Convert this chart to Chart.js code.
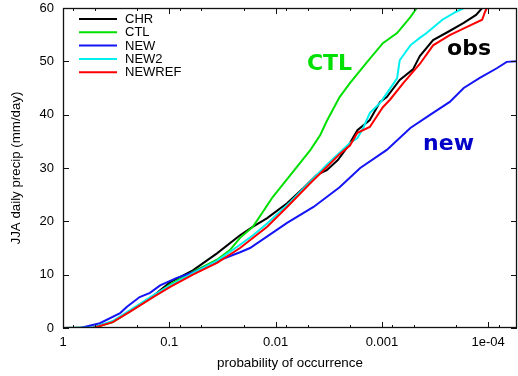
<!DOCTYPE html>
<html>
<head>
<meta charset="utf-8">
<script src="https://cdn.jsdelivr.net/npm/chart.js@4/dist/chart.umd.min.js"></script>
<style>
html, body { margin: 0; padding: 0; background: #fff; }
#wrap { width: 518px; height: 376px; }
</style>
</head>
<body>
<div id="wrap"><canvas id="myChart" width="518" height="376"></canvas></div>
<script>
//x轴刻度（概率，反向对数轴）
var xTicks = [1, 0.1, 0.01, 0.001, 0.0001]
var xTickLabels = ['1', '0.1', '0.01', '0.001', '1e-04']
var xMinor = [0.8, 0.5, 0.2, 0.08, 0.05, 0.02, 0.008, 0.005, 0.002, 0.0008, 0.0005, 0.0002, 0.00008]
var yTicks = [0, 10, 20, 30, 40, 50, 60]

//CHR
var chrP = [1, 0.52, 0.34, 0.22, 0.142, 0.098, 0.060, 0.0356, 0.0216, 0.0163, 0.012, 0.0078, 0.0055, 0.0041, 0.0033, 0.0026, 0.0021, 0.0020, 0.0017, 0.0013, 0.00104, 0.0009, 0.00068, 0.00051, 0.00044, 0.00033, 0.00024, 0.00017, 0.00013, 0.000114]
var chrY = [0, 0.1, 1.2, 3.5, 6.0, 8.6, 10.8, 14.0, 17.4, 19.0, 20.6, 23.4, 26.2, 28.7, 29.6, 31.5, 34.0, 34.7, 37.1, 39.0, 42.4, 43.3, 46.5, 48.5, 51.0, 54.0, 55.5, 57.2, 58.7, 60]
//CTL
var ctlP = [1, 0.52, 0.34, 0.22, 0.142, 0.098, 0.060, 0.0356, 0.0269, 0.0216, 0.0163, 0.0106, 0.0063, 0.0047, 0.0038, 0.0033, 0.0025, 0.0020, 0.0014, 0.00098, 0.00072, 0.00054, 0.00047]
var ctlY = [0, 0, 1.1, 3.5, 5.9, 8.2, 10.5, 12.8, 14.6, 16.9, 19.0, 24.6, 30.2, 33.4, 36.2, 38.8, 43.3, 45.9, 49.7, 53.4, 55.3, 58.3, 60]
//NEW
var newP = [1, 0.69, 0.45, 0.29, 0.25, 0.19, 0.152, 0.122, 0.085, 0.060, 0.033, 0.0216, 0.0174, 0.0078, 0.0044, 0.0025, 0.0016, 0.0009, 0.00054, 0.00035, 0.00023, 0.00017, 0.00012, 0.000083, 0.000067, 0.0000536]
var newY = [0, 0, 0.9, 2.8, 4.0, 5.8, 6.6, 8.0, 9.4, 10.4, 12.8, 14.2, 15.0, 19.7, 22.7, 26.4, 30.0, 33.4, 37.5, 40.0, 42.4, 45.0, 46.9, 48.7, 49.9, 50]
//NEW2
var new2P = [1, 0.52, 0.34, 0.22, 0.142, 0.098, 0.060, 0.0356, 0.0216, 0.0163, 0.012, 0.0073, 0.0033, 0.0020, 0.0017, 0.0015, 0.0013, 0.00104, 0.0009, 0.00072, 0.00068, 0.00054, 0.00044, 0.00038, 0.00027, 0.0002, 0.00017]
var new2Y = [0, 0.1, 1.3, 3.7, 6.1, 8.0, 10.3, 12.6, 15.6, 17.4, 19.6, 23.6, 30.6, 34.7, 35.6, 37.5, 40.3, 42.2, 44.0, 46.8, 50.2, 53.0, 54.4, 55.3, 57.8, 59.3, 60]
//NEWREF
var refP = [1, 0.52, 0.34, 0.22, 0.142, 0.098, 0.060, 0.0356, 0.0216, 0.012, 0.0078, 0.0047, 0.0033, 0.0025, 0.0020, 0.0017, 0.0013, 0.00098, 0.00084, 0.00063, 0.00044, 0.00033, 0.00023, 0.00016, 0.000114, 0.000107, 0.000103]
var refY = [0, 0, 1.1, 3.4, 5.8, 7.7, 10.0, 12.2, 15.0, 19.0, 22.7, 27.2, 30.2, 32.6, 34.2, 36.6, 37.7, 41.4, 42.8, 45.9, 49.5, 53.0, 54.9, 56.4, 57.8, 59.3, 60]

var seriesNames = ['CHR', 'CTL', 'NEW', 'NEW2', 'NEWREF']
var seriesColors = ['#000000', '#00e000', '#1414f5', '#00f0f0', '#ff0000']

//图中标注（文字、概率、数值）
var notes = [
    { text: 'CTL', p: 0.00507, v: 48.4, color: '#00e000' },
    { text: 'obs', p: 0.000244, v: 51.2, color: '#000000' },
    { text: 'new', p: 0.00041, v: 33.4, color: '#0000c8' },
]

function pts(px, py) {
    return px.map((p, i) => ({ x: p, y: py[i] }))
}

var allP = [chrP, ctlP, newP, new2P, refP]
var allY = [chrY, ctlY, newY, new2Y, refY]

var datasets = seriesNames.map((name, i) => ({
    label: name,
    data: pts(allP[i], allY[i]),
    borderColor: seriesColors[i],
    backgroundColor: seriesColors[i],
    borderWidth: 2,
    pointRadius: 0,
    tension: 0,
    //后画的在上层，红线最上
    order: 4 - i,
}))

var FONT = 'Liberation Sans'

//gnuplot风格：边框、内向刻度、图例、标注
var framePlugin = {
    id: 'frame',
    afterDraw(chart) {
        let ctx = chart.ctx
        let a = chart.chartArea
        let xs = chart.scales.x
        let ys = chart.scales.y
        ctx.save()
        ctx.strokeStyle = '#111'
        ctx.lineWidth = 1
        let line = (x1, y1, x2, y2) => {
            ctx.beginPath(); ctx.moveTo(x1, y1); ctx.lineTo(x2, y2); ctx.stroke()
        }
        xTicks.forEach(v => {
            let px = Math.round(xs.getPixelForValue(v)) + 0.5
            line(px, a.bottom, px, a.bottom - 6)
            line(px, a.top, px, a.top + 6)
        })
        xMinor.forEach(v => {
            let px = Math.round(xs.getPixelForValue(v)) + 0.5
            line(px, a.bottom, px, a.bottom - 3)
            line(px, a.top, px, a.top + 3)
        })
        yTicks.forEach(v => {
            let py = Math.round(ys.getPixelForValue(v)) + 0.5
            line(a.left, py, a.left + 6, py)
            line(a.right, py, a.right - 6, py)
        })
        ctx.lineWidth = 1.3
        ctx.strokeRect(a.left + 0.5, a.top + 0.5, a.right - a.left - 1, a.bottom - a.top - 1)

        //图例
        ctx.font = '13px "' + FONT + '"'
        ctx.textBaseline = 'middle'
        ctx.textAlign = 'left'
        seriesNames.forEach((name, i) => {
            let y = a.top + 11 + i * 13.3
            ctx.strokeStyle = seriesColors[i]
            ctx.lineWidth = 2
            line(a.left + 16, y, a.left + 54, y)
            ctx.fillStyle = '#000'
            ctx.fillText(name, a.left + 62, y + 0.5)
        })

        //标注
        ctx.font = 'bold 22px "DejaVu Sans"'
        ctx.textBaseline = 'alphabetic'
        notes.forEach(n => {
            ctx.fillStyle = n.color
            ctx.fillText(n.text, xs.getPixelForValue(n.p), ys.getPixelForValue(n.v))
        })
        ctx.restore()
    }
}

var ctx = document.getElementById('myChart').getContext('2d')
var myChart = new Chart(ctx, {
    type: 'line',
    data: { datasets: datasets },
    options: {
        responsive: false,
        animation: false,
        layout: { padding: { left: 0, right: 1, top: 8, bottom: 0 } },
        plugins: {
            legend: { display: false },
            tooltip: { enabled: false },
        },
        scales: {
            x: {
                type: 'logarithmic',
                reverse: true,
                min: 0.0000536,
                max: 1,
                grid: { display: false, drawTicks: false },
                border: { display: false },
                afterBuildTicks: s => { s.ticks = xTicks.map(v => ({ value: v })) },
                afterFit: s => {
                    s.height = 48
                    s.paddingLeft = 0
                    s.paddingRight = 0
                },
                ticks: {
                    autoSkip: false,
                    maxRotation: 0,
                    padding: 7,
                    color: '#000',
                    font: { family: FONT, size: 13 },
                    callback: (v, i) => xTickLabels[i],
                },
                title: {
                    display: true,
                    text: 'probability of occurrence',
                    color: '#000',
                    font: { family: FONT, size: 13.4 },
                    padding: { top: 0, bottom: 5 },
                },
            },
            y: {
                min: 0,
                max: 60,
                grid: { display: false, drawTicks: false },
                border: { display: false },
                afterBuildTicks: s => { s.ticks = yTicks.map(v => ({ value: v })) },
                afterFit: s => {
                    s.width = 63
                    //去掉刻度文字带来的额外上下留白
                    s.paddingTop = 0
                    s.paddingBottom = 0
                },
                ticks: {
                    padding: 9,
                    color: '#000',
                    font: { family: FONT, size: 13 },
                },
                title: {
                    display: true,
                    text: 'JJA daily precip (mm/day)',
                    color: '#000',
                    font: { family: FONT, size: 13.3 },
                    padding: { top: 8.5, bottom: 0 },
                },
            },
        },
    },
    plugins: [framePlugin],
})
</script>
</body>
</html>
